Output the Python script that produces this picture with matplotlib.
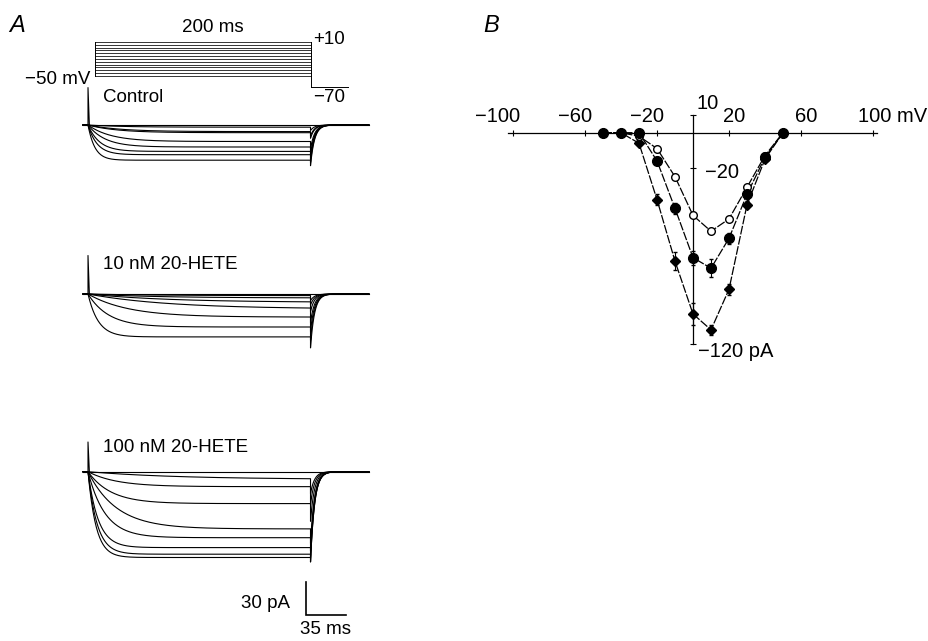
"""Whole-cell currents under 20-HETE (A) and peak current-voltage relation (B)."""
import numpy as np
import matplotlib
matplotlib.use("Agg")
import matplotlib.pyplot as plt

plt.rcParams["font.family"] = ["Liberation Sans", "DejaVu Sans"]

# ---- panel A: voltage protocol (mV) ----
step_levels = [-50, -45, -40, -35, -30, -25, -20, -15, -10, -5, 0, 5, 10]
return_level = -70

# ---- panel A: current traces, one entry per sweep (pA, ms) ----
control_plateau = [0, 2, 6, 7, 15, 20, 24, 27, 32]
control_tau = [30, 30, 28, 25, 20, 15, 10, 8, 6]
control_tail = [0, 5, 10, 12, 22, 27, 31, 34, 37]
control_spike = 34

hete10_plateau = [0, 1.5, 3.6, 7.6, 13.6, 21, 30, 39]
hete10_tau = [40, 60, 60, 70, 70, 35, 18, 9]
hete10_tail = [0, 6, 10, 16, 26, 34, 42, 49]
hete10_spike = 35

hete100_plateau = [0, 7, 13.6, 29, 52, 60, 69, 75, 78]
hete100_tau = [40, 80, 25, 20, 25, 15, 9, 8, 7]
hete100_tail = [0, 20, 30, 45, 65, 72, 78, 82, 82]
hete100_spike = 27

# ---- panel B: I-V data ----
volts = [-50, -40, -30, -20, -10, 0, 10, 20, 30, 40, 50]
iv_control = [0, 0, -2, -9, -25, -47, -56, -49, -31, -13, 0]
iv_hete10 = [0, 0, 0, -16, -43, -71, -77, -60, -35, -14, 0]
iv_hete10_err = [0, 0, 0, 2, 3, 4, 5, 3, 2, 1, 0]
iv_hete100 = [0, 0, -6, -38, -73, -103, -112, -89, -41, -15, 0]
iv_hete100_err = [0, 0, 1, 3, 5, 6, 3, 3, 2, 1, 0]

x_ticks = [-100, -60, -20, 20, 60, 100]
y_ticks = [10, -20, -120]

# ---- layout (pixels of the 929 x 641 figure) ----
W, H = 929, 641
PX_MS = 40 / 35      # scale bar: 35 ms
PX_PA = 33 / 30      # scale bar: 30 pA
PX_MV = 34 / 60      # protocol drawing
T0_PX = 88
STEP_MS = 194.7
PRE_MS = 4.4
AFTER_MS = 51
TAIL_TAU = 3.5
PROTO_ON = 6.1
PROTO_OFF_EXTRA = 33


def px_axes(fig, x0, y0, x1, y1):
    return fig.add_axes([x0 / W, 1 - y1 / H, (x1 - x0) / W, (y1 - y0) / H])


def ftext(fig, x, y, s, **kw):
    fig.text(x / W, 1 - y / H, s, **kw)


def trace_axes(fig, base_px, top_px, bot_px):
    ax = px_axes(fig, 60, top_px, 390, bot_px)
    ax.set_xlim((60 - T0_PX) / PX_MS, (390 - T0_PX) / PX_MS)
    ax.set_ylim(-(bot_px - base_px) / PX_PA, (base_px - top_px) / PX_PA)
    ax.axis("off")
    return ax


def draw_traces(ax, plateaus, taus, tails, spike):
    t_on = np.linspace(0, STEP_MS, 400)
    t_off = np.linspace(0, AFTER_MS, 200)
    for a, tau, tail in zip(plateaus, taus, tails):
        i_on = -a * (1 - np.exp(-t_on / tau))
        i_off = -tail * np.exp(-t_off / TAIL_TAU)
        t = np.concatenate([[-PRE_MS], t_on, STEP_MS + t_off])
        i = np.concatenate([[0], i_on, i_off])
        ax.plot(t, i, color="black", lw=0.8)
    ax.plot([0, 0, 1.2], [0, spike, 0], color="black", lw=0.8)


fig = plt.figure(figsize=(W / 100, H / 100), dpi=100)

# protocol
ax_p = px_axes(fig, 60, 0, 390, 110)
ax_p.set_xlim((60 - T0_PX) / PX_MS, (390 - T0_PX) / PX_MS)
ax_p.set_ylim(10 - 68 / PX_MV, 10 + 42 / PX_MV)
ax_p.axis("off")
for v in step_levels:
    ax_p.plot([PROTO_ON, STEP_MS], [v, v], color="black", lw=0.55)
ax_p.plot([PROTO_ON, PROTO_ON], [min(step_levels), max(step_levels)], color="black", lw=0.7)
ax_p.plot([STEP_MS, STEP_MS], [max(step_levels), return_level], color="black", lw=0.7)
ax_p.plot([STEP_MS, STEP_MS + PROTO_OFF_EXTRA], [return_level, return_level], color="black", lw=0.7)

ax_c = trace_axes(fig, 125, 70, 200)
draw_traces(ax_c, control_plateau, control_tau, control_tail, control_spike)
ax_10 = trace_axes(fig, 294, 240, 370)
draw_traces(ax_10, hete10_plateau, hete10_tau, hete10_tail, hete10_spike)
ax_100 = trace_axes(fig, 471.7, 420, 625)
draw_traces(ax_100, hete100_plateau, hete100_tau, hete100_tail, hete100_spike)

# scale bar
sb_t = (306 - T0_PX) / PX_MS
sb_i = -(615 - 471.7) / PX_PA
ax_100.plot([sb_t, sb_t, sb_t + 35], [sb_i + 30, sb_i, sb_i], color="black", lw=1.2,
            solid_joinstyle="miter")

fs_a = 13.5
ftext(fig, 9, 25, "A", fontsize=17, style="italic", va="center")
ftext(fig, 213, 28, "200 ms", fontsize=fs_a, ha="center", va="center")
ftext(fig, 313, 40, "+10", fontsize=fs_a, va="center")
ftext(fig, 90, 79, "\u221250 mV", fontsize=fs_a, ha="right", va="center")
ftext(fig, 313, 97, "\u221270", fontsize=fs_a, va="center")
ftext(fig, 103, 97, "Control", fontsize=fs_a, va="center")
ftext(fig, 103, 265, "10 nM 20-HETE", fontsize=fs_a, va="center")
ftext(fig, 103, 448, "100 nM 20-HETE", fontsize=fs_a, va="center")
ftext(fig, 290, 603, "30 pA", fontsize=fs_a, ha="right", va="center")
ftext(fig, 326, 630, "35 ms", fontsize=fs_a, ha="center", va="center")

# ---- panel B ----
ax_b = px_axes(fig, 504, 100, 882, 360)
ax_b.set_xlim(-105, 105)
ax_b.set_ylim(-(360 - 132.7) / 1.76, (132.7 - 100) / 1.76)
ax_b.patch.set_visible(False)
for side in ("top", "right"):
    ax_b.spines[side].set_visible(False)
ax_b.spines["bottom"].set_position(("data", 0))
ax_b.spines["left"].set_position(("data", 0))
ax_b.spines["bottom"].set_bounds(-103, 102)
ax_b.spines["left"].set_bounds(-120, 10)
for side in ("bottom", "left"):
    ax_b.spines[side].set_linewidth(0.9)
ax_b.set_xticks(x_ticks)
ax_b.set_yticks(y_ticks)
ax_b.set_xticklabels([])
ax_b.set_yticklabels([])
ax_b.tick_params(direction="inout", length=4, width=0.8)

line_kw = dict(color="black", lw=0.9, dashes=(7, 1.3), zorder=2)
ax_b.plot(volts, iv_hete100, **line_kw)
ax_b.plot(volts, iv_control, **line_kw)
ax_b.plot(volts, iv_hete10, **line_kw)
ax_b.errorbar(volts, iv_hete100, yerr=iv_hete100_err, fmt="D", ms=4.6, color="black",
              elinewidth=0.8, capsize=1.5, zorder=3)
ax_b.plot(volts, iv_control, "o", ms=5.5, mfc="white", mec="black", mew=1.0, zorder=4)
ax_b.errorbar(volts, iv_hete10, yerr=iv_hete10_err, fmt="o", ms=7, color="black",
              elinewidth=0.8, capsize=1.5, zorder=5)

fs_b = 14.5
for v in x_ticks:
    if v < 0:
        ax_b.text(v + 4, 9.1, "\u2212" + str(-v), fontsize=fs_b, ha="right", va="center")
    elif v < 100:
        ax_b.text(v + 3, 9.1, str(v), fontsize=fs_b, ha="center", va="center")
    else:
        ax_b.text(v - 8.5, 9.1, f"{v} mV", fontsize=fs_b, ha="left", va="center")
ax_b.text(2, 16.5, "10", fontsize=fs_b, ha="left", va="center")
ax_b.text(6.5, -22.5, "\u221220", fontsize=fs_b, ha="left", va="center")
ax_b.text(2.8, -124.4, "\u2212120 pA", fontsize=fs_b, ha="left", va="center", clip_on=False)

ftext(fig, 483, 25, "B", fontsize=17, style="italic", va="center")

fig.savefig("out.png", dpi=100)
